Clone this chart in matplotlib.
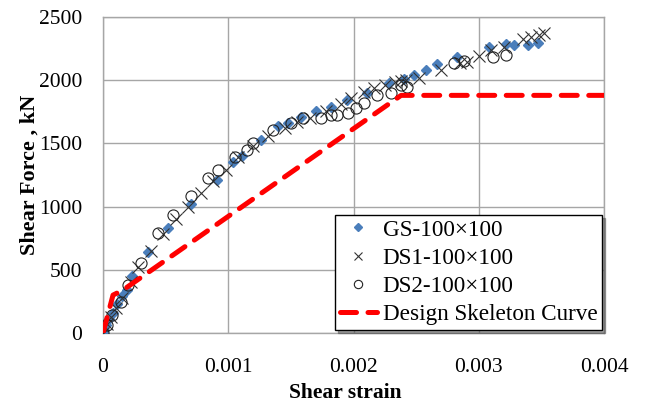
import matplotlib
matplotlib.use("Agg")
import matplotlib.pyplot as plt
import numpy as np

# Data (strain in units of 1e-3, force in kN)
gs_strain = [0.0, 0.01, 0.02, 0.05, 0.08, 0.11, 0.15, 0.19, 0.23, 0.36, 0.52, 0.70, 0.91, 1.04,
             1.11, 1.26, 1.40, 1.48, 1.58, 1.70, 1.82, 1.95, 2.11, 2.28, 2.40, 2.48, 2.58, 2.67,
             2.83, 3.08, 3.22, 3.28, 3.39, 3.47]
gs_force = [0, 20, 60, 110, 160, 230, 290, 340, 450, 640, 830, 1020, 1210, 1350,
            1400, 1530, 1640, 1660, 1710, 1760, 1790, 1840, 1900, 1975, 2010, 2040, 2080, 2130,
            2185, 2265, 2290, 2280, 2280, 2295]

ds1_strain = [0.0, 0.03, 0.06, 0.10, 0.15, 0.22, 0.28, 0.38, 0.48, 0.58, 0.68, 0.78, 0.88, 0.98,
              1.08, 1.20, 1.32, 1.45, 1.55, 1.65, 1.78, 1.90, 1.98, 2.08, 2.16, 2.25, 2.33, 2.38,
              2.42, 2.52, 2.70, 2.85, 2.91, 3.00, 3.10, 3.20, 3.35, 3.42, 3.48, 3.52]
ds1_force = [0, 70, 130, 200, 280, 400, 520, 650, 780, 900, 1000, 1110, 1200, 1290,
             1390, 1480, 1560, 1620, 1670, 1700, 1760, 1810, 1860, 1907, 1938, 1960, 1985, 1990,
             2000, 2017, 2080, 2140, 2144, 2190, 2240, 2260, 2326, 2340, 2360, 2373]

ds2_strain = [0.0, 0.03, 0.07, 0.14, 0.20, 0.30, 0.44, 0.56, 0.70, 0.84, 0.92, 1.05, 1.15, 1.20,
              1.36, 1.50, 1.60, 1.74, 1.82, 1.87, 1.96, 2.02, 2.08, 2.19, 2.30, 2.38, 2.43,
              2.80, 2.88, 3.11, 3.22]
ds2_force = [0, 60, 142, 245, 380, 554, 791, 934, 1080, 1226, 1290, 1390, 1448, 1503,
             1606, 1661, 1700, 1700, 1725, 1725, 1740, 1780, 1820, 1883, 1900, 1960, 1946,
             2136, 2150, 2183, 2200]

skel_strain = [0.0, 0.08, 0.16, 2.38, 4.0]
skel_force = [0, 300, 340, 1880, 1880]

labels = ["GS-100\u00d7100", "DS1-100\u00d7100", "DS2-100\u00d7100", "Design Skeleton Curve"]
xticks = [0, 0.001, 0.002, 0.003, 0.004]
xticklabels = ["0", "0.001", "0.002", "0.003", "0.004"]
yticks = [0, 500, 1000, 1500, 2000, 2500]

plt.rcParams['font.family'] = ['Liberation Serif', 'DejaVu Serif']

fig = plt.figure(figsize=(6.45, 4.03), dpi=100)
ax = fig.add_axes([103/645, 70/403, 501/645, 316/403])

sc = 1e-3
ax.plot(np.array(gs_strain)*sc, gs_force, linestyle='none', marker='D', markersize=5.5,
        color='#4A7EBB', markeredgecolor='#4A7EBB', label=labels[0], zorder=3)
ax.plot(np.array(ds1_strain)*sc, ds1_force, linestyle='none', marker='x', markersize=8,
        color='#333333', markeredgewidth=0.8, label=labels[1], zorder=4)
ax.plot(np.array(ds2_strain)*sc, ds2_force, linestyle='none', marker='o', markersize=8,
        markerfacecolor='none', markeredgecolor='#222222', markeredgewidth=0.8,
        label=labels[2], zorder=4)
ax.plot(np.array(skel_strain)*sc, skel_force, color='#FF0000', linewidth=3.6,
        dashes=(3.2, 2.3), dash_capstyle='round', label=labels[3], zorder=5)

ax.set_xlim(0, 0.004)
ax.set_ylim(0, 2500)
ax.set_xticks(xticks)
ax.set_xticklabels(xticklabels)
ax.set_yticks(yticks)
ax.grid(True, color='#A6A6A6', linewidth=1.0)
ax.set_axisbelow(True)
for s in ax.spines.values():
    s.set_color('#A6A6A6')
    s.set_linewidth(1.0)
ax.tick_params(axis='both', length=0, labelsize=15.5)
ax.tick_params(axis='y', pad=15)
ax.tick_params(axis='x', pad=18)

ax.set_xlabel('Shear strain', fontsize=15.5, fontweight='bold', labelpad=2)
ax.xaxis.set_label_coords(0.483, -0.158)
ax.xaxis.label.set_va('top')
ax.set_ylabel('Shear Force , kN', fontsize=16, fontweight='bold')
ax.yaxis.set_label_coords(-0.147, 0.5)
ax.yaxis.label.set_va('center')

leg = ax.legend(loc='lower right', bbox_to_anchor=(0.996, 0.01), fontsize=16.7,
                frameon=True, fancybox=False, shadow=True, borderpad=0.2,
                labelspacing=0.3, handlelength=1.6, handletextpad=0.25, borderaxespad=0,
                markerscale=0.75)
leg.get_frame().set_edgecolor('black')
leg.get_frame().set_linewidth(1.0)

fig.savefig('out.png', dpi=100)
